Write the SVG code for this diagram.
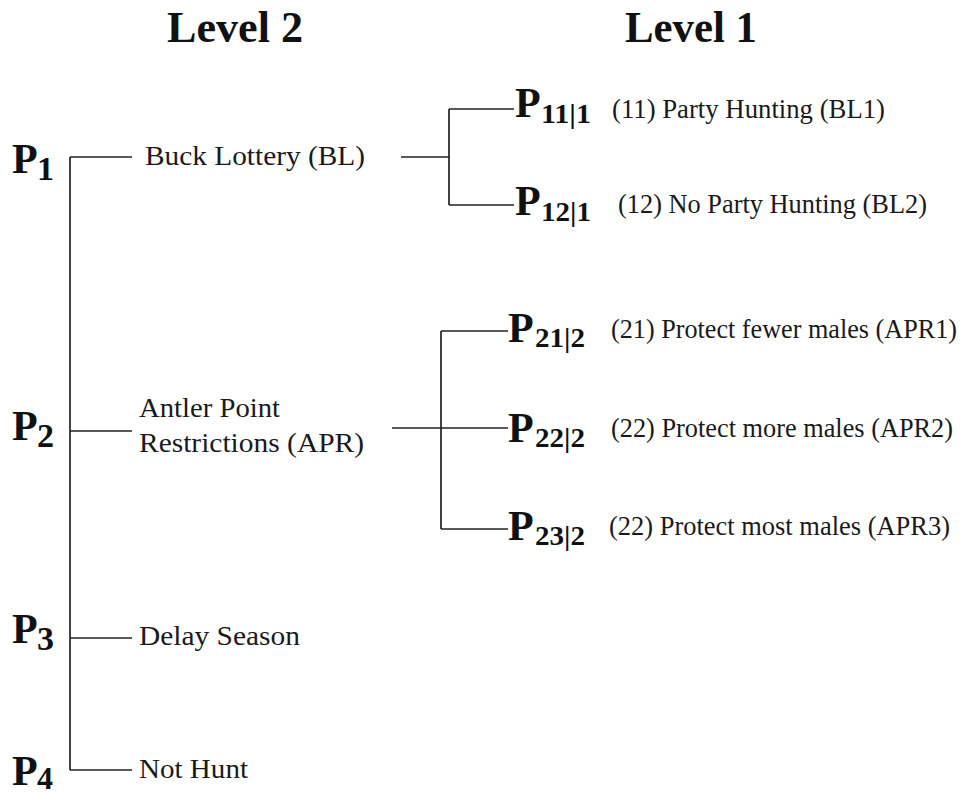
<svg xmlns="http://www.w3.org/2000/svg" width="966" height="797" viewBox="0 0 966 797">
<style>
.bg{fill:#ffffff}
.hd{font-family:"Liberation Serif","Times New Roman",serif;font-weight:bold;font-size:44px;fill:#111}
.p{font-family:"Liberation Serif","Times New Roman",serif;font-weight:bold;font-size:42px;fill:#111}
.ps{font-family:"Liberation Serif","Times New Roman",serif;font-weight:bold;font-size:34px;fill:#111}
.pss{font-family:"Liberation Serif","Times New Roman",serif;font-weight:bold;font-size:28px;fill:#111}
.t{font-family:"Liberation Serif","Times New Roman",serif;font-size:27px;fill:#1a1a1a}
.ln{stroke:#222;stroke-width:1.7;fill:none}
</style>
<rect class="bg" x="0" y="0" width="966" height="797"/>
<g id="headers">
<text class="hd" x="167" y="42" textLength="136" lengthAdjust="spacingAndGlyphs">Level 2</text>
<text class="hd" x="625" y="42" textLength="132" lengthAdjust="spacingAndGlyphs">Level 1</text>
</g>
<g id="connectors">
<line class="ln" x1="70" y1="157" x2="70" y2="770"/>
<line class="ln" x1="70" y1="157" x2="132" y2="157"/>
<line class="ln" x1="70" y1="431" x2="132" y2="431"/>
<line class="ln" x1="70" y1="638" x2="132" y2="638"/>
<line class="ln" x1="70" y1="770" x2="132" y2="770"/>
<line class="ln" x1="401" y1="157" x2="449" y2="157"/>
<line class="ln" x1="449" y1="109" x2="449" y2="205"/>
<line class="ln" x1="449" y1="109" x2="514" y2="109"/>
<line class="ln" x1="449" y1="205" x2="514" y2="205"/>
<line class="ln" x1="392" y1="428" x2="508" y2="428"/>
<line class="ln" x1="441" y1="331" x2="441" y2="529"/>
<line class="ln" x1="441" y1="331" x2="508" y2="331"/>
<line class="ln" x1="441" y1="529" x2="508" y2="529"/>
</g>
<g id="P1">
<text class="p" x="12" y="173">P</text>
<text class="ps" x="37" y="180">1</text>
<text class="t" x="145" y="165" textLength="220" lengthAdjust="spacingAndGlyphs">Buck Lottery (BL)</text>
</g>
<g id="P2">
<text class="p" x="12" y="440">P</text>
<text class="ps" x="37" y="447">2</text>
<text class="t" x="139" y="417" textLength="141" lengthAdjust="spacingAndGlyphs">Antler Point</text>
<text class="t" x="139" y="452" textLength="225" lengthAdjust="spacingAndGlyphs">Restrictions (APR)</text>
</g>
<g id="P3">
<text class="p" x="12" y="643">P</text>
<text class="ps" x="37" y="650">3</text>
<text class="t" x="139" y="645" textLength="161" lengthAdjust="spacingAndGlyphs">Delay Season</text>
</g>
<g id="P4">
<text class="p" x="12" y="785">P</text>
<text class="ps" x="37" y="789" style="font-size:32px">4</text>
<text class="t" x="139" y="778" textLength="109" lengthAdjust="spacingAndGlyphs">Not Hunt</text>
</g>
<g id="P11">
<text class="p" x="515" y="117">P</text>
<text class="pss" x="541" y="123" textLength="50" lengthAdjust="spacingAndGlyphs">11|1</text>
<text class="t" x="612" y="118" textLength="273" lengthAdjust="spacingAndGlyphs">(11) Party Hunting (BL1)</text>
</g>
<g id="P12">
<text class="p" x="515" y="215">P</text>
<text class="pss" x="541" y="221" textLength="50" lengthAdjust="spacingAndGlyphs">12|1</text>
<text class="t" x="618" y="213" textLength="309" lengthAdjust="spacingAndGlyphs">(12) No Party Hunting (BL2)</text>
</g>
<g id="P21">
<text class="p" x="508" y="342">P</text>
<text class="pss" x="535" y="347" textLength="50" lengthAdjust="spacingAndGlyphs">21|2</text>
<text class="t" x="611" y="338" textLength="346" lengthAdjust="spacingAndGlyphs">(21) Protect fewer males (APR1)</text>
</g>
<g id="P22">
<text class="p" x="508" y="442">P</text>
<text class="pss" x="535" y="447" textLength="50" lengthAdjust="spacingAndGlyphs">22|2</text>
<text class="t" x="611" y="437" textLength="342" lengthAdjust="spacingAndGlyphs">(22) Protect more males (APR2)</text>
</g>
<g id="P23">
<text class="p" x="508" y="540">P</text>
<text class="pss" x="535" y="545" textLength="50" lengthAdjust="spacingAndGlyphs">23|2</text>
<text class="t" x="609" y="535" textLength="341" lengthAdjust="spacingAndGlyphs">(22) Protect most males (APR3)</text>
</g>
</svg>
